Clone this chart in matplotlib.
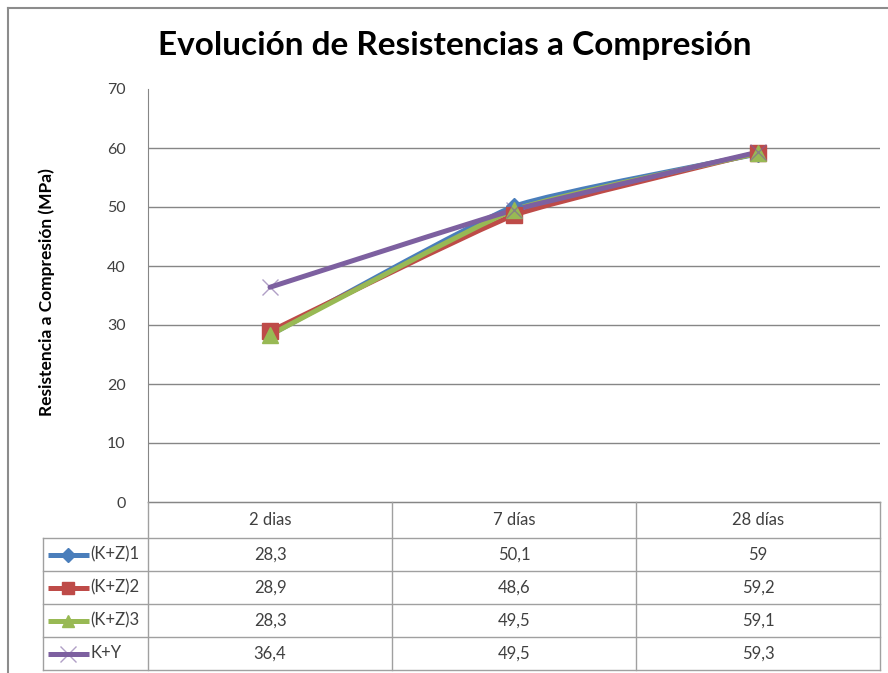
import matplotlib
matplotlib.use('Agg')
import matplotlib.pyplot as plt
from matplotlib.path import Path
from matplotlib.patches import PathPatch

# ---------------- data ----------------
categories = ['2 dias', '7 días', '28 días']
series_names = ['(K+Z)1', '(K+Z)2', '(K+Z)3', 'K+Y']
kz1 = [28.3, 50.1, 59.0]
kz2 = [28.9, 48.6, 59.2]
kz3 = [28.3, 49.5, 59.1]
ky = [36.4, 49.5, 59.3]
y_ticks = [0, 10, 20, 30, 40, 50, 60, 70]

series_values = [kz1, kz2, kz3, ky]
colors = ['#4A7EBB', '#BE4B48', '#98B954', '#7D60A0']
markers = ['D', 's', '^', 'x']
msizes = [8, 11, 11, 11]

title = 'Evolución de Resistencias a Compresión'
ylabel = 'Resistencia a Compresión (MPa)'

FONT = ['Lato', 'DejaVu Sans']
plt.rcParams['font.family'] = FONT

W, H = 888, 673
fig = plt.figure(figsize=(W / 100, H / 100), dpi=100)
fig.patch.set_facecolor('white')

# plot area (pixel layout)
L, R, T, B = 148, 880, 89, 502
ax = fig.add_axes([L / W, 1 - B / H, (R - L) / W, (B - T) / H])
ax.set_xlim(-0.5, len(categories) - 0.5)
ax.set_ylim(0, 70)
ax.set_yticks(y_ticks)
ax.set_xticks([])
ax.tick_params(axis='y', length=0, pad=16, labelsize=11.5, labelcolor='#404040')
for s in ['top', 'right']:
    ax.spines[s].set_visible(False)
ax.spines['left'].set_color('#868686')
ax.spines['bottom'].set_color('#868686')
for yv in y_ticks[1:-1]:
    ax.axhline(yv, color='#868686', lw=1.0, zorder=1)

TENSION = 1 / 14


def smooth_path(xs, ys):
    pts = list(zip(xs, ys))
    n = len(pts)
    verts = [pts[0]]
    codes = [Path.MOVETO]
    for i in range(n - 1):
        p0 = pts[i - 1] if i > 0 else pts[i]
        p1 = pts[i]
        p2 = pts[i + 1]
        p3 = pts[i + 2] if i + 2 < n else pts[i + 1]
        c1 = (p1[0] + (p2[0] - p0[0]) * TENSION, p1[1] + (p2[1] - p0[1]) * TENSION)
        c2 = (p2[0] - (p3[0] - p1[0]) * TENSION, p2[1] - (p3[1] - p1[1]) * TENSION)
        verts += [c1, c2, p2]
        codes += [Path.CURVE4] * 3
    return Path(verts, codes)


xs = list(range(len(categories)))
for vals, c, m, ms in zip(series_values, colors, markers, msizes):
    patch = PathPatch(smooth_path(xs, vals), facecolor='none', edgecolor=c,
                      lw=3.6, zorder=3, capstyle='round', joinstyle='round')
    ax.add_patch(patch)
for vals, c, m, ms in zip(series_values, colors, markers, msizes):
    if m == 'x':
        ax.plot(xs, vals, linestyle='none', marker=m, color=c, ms=ms,
                mew=1.0, alpha=0.6, zorder=4, clip_on=False)
    else:
        ax.plot(xs, vals, linestyle='none', marker=m, color=c, ms=ms,
                mec=c, zorder=4, clip_on=False)

# ---------------- title & labels ----------------
fig.text(455 / W, 1 - 45 / H, title, ha='center', va='center',
         fontsize=24, fontweight='bold', color='black')
fig.text(47 / W, 1 - 292 / H, ylabel, rotation=90, ha='center', va='center',
         fontsize=12.5, fontweight='bold', color='black')

# ---------------- data table (pixel layout) ----------------
tax = fig.add_axes([0, 0, 1, 1], zorder=5)
tax.set_xlim(0, W)
tax.set_ylim(H, 0)
tax.axis('off')
tax.patch.set_alpha(0)

col_w = (R - L) / len(categories)
col_edges = [L + col_w * i for i in range(len(categories) + 1)]
row_edges = [B, 538, 571, 604, 637, 670]
leg_left = 43
gcol = '#A0A0A0'

# horizontal lines
tax.plot([L, R], [row_edges[0], row_edges[0]], color='#868686', lw=1)
for yv in row_edges[1:]:
    tax.plot([leg_left, R], [yv, yv], color=gcol, lw=1)
# vertical lines
tax.plot([leg_left, leg_left], [row_edges[1], row_edges[-1]], color=gcol, lw=1)
for xv in col_edges:
    tax.plot([xv, xv], [row_edges[0], row_edges[-1]], color=gcol, lw=1)

FS = 12
# header
for i, cat in enumerate(categories):
    cx = (col_edges[i] + col_edges[i + 1]) / 2
    tax.text(cx, (row_edges[0] + row_edges[1]) / 2, cat, ha='center', va='center',
             fontsize=FS, color='#404040')

# rows
for r, (name, vals, c, m, ms) in enumerate(zip(series_names, series_values, colors, markers, msizes)):
    cy = (row_edges[r + 1] + row_edges[r + 2]) / 2
    tax.plot([48, 89], [cy, cy], color=c, lw=3.6, solid_capstyle='butt')
    if m == 'x':
        tax.plot([68], [cy], marker=m, color=c, ms=ms, mew=1.0, alpha=0.6, linestyle='none')
    else:
        tax.plot([68], [cy], marker=m, color=c, ms=ms * 0.85, mec=c, linestyle='none')
    tax.text(90, cy, name, ha='left', va='center', fontsize=FS, color='#404040')
    for i, v in enumerate(vals):
        cx = (col_edges[i] + col_edges[i + 1]) / 2
        txt = f'{v:g}'.replace('.', ',')
        tax.text(cx, cy, txt, ha='center', va='center', fontsize=FS, color='#404040')

# outer chart border (left and top visible)
tax.plot([8, 8], [8, H], color='#8C8C8C', lw=1.5)
tax.plot([8, W], [8, 8], color='#8C8C8C', lw=1.5)

fig.savefig('out.png', dpi=100, facecolor='white')
